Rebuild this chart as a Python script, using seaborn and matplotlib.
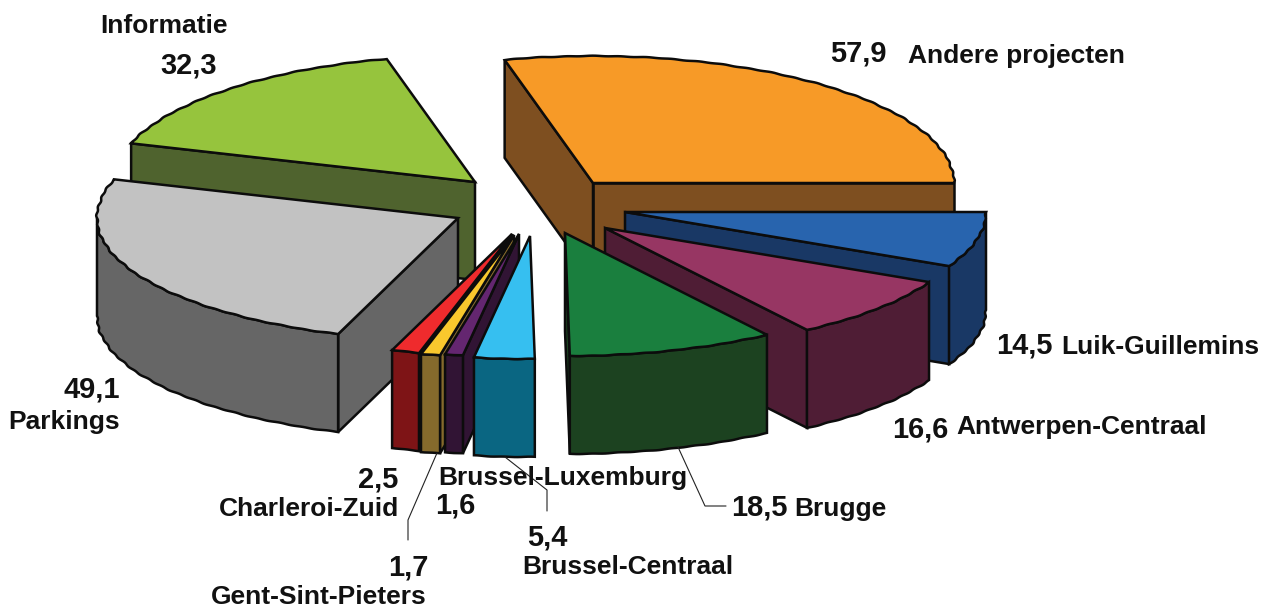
import numpy as np
import matplotlib.pyplot as plt
import seaborn as sns

# Slice data, clockwise from the top
labels = ['Andere projecten', 'Luik-Guillemins', 'Antwerpen-Centraal', 'Brugge', 'Brussel-Centraal',
          'Brussel-Luxemburg', 'Gent-Sint-Pieters', 'Charleroi-Zuid', 'Parkings', 'Informatie']
values = [57.9, 14.5, 16.6, 18.5, 5.4, 1.6, 1.7, 2.5, 49.1, 32.3]

# Colours of the top and of the side of each slice
top_colors = ['#F79A27', '#2864AE', '#973663', '#1A7F3E', '#36BFF0',
              '#642670', '#F9C82D', '#EF2B2D', '#C2C2C2', '#96C43D']
side_colors = ['#7E4F20', '#193865', '#4F1D35', '#1C4220', '#0A6682',
               '#311434', '#856A2C', '#7E1416', '#666666', '#4F632E']

# Explode offsets in pixels from the pie centre
explode_x = [73, 105, 85, 45, 10, -1, -6, -8, -62, -45]
explode_y = [-42, -13, 3, 8, 11, 9, 10, 9, -7, -43]
draw_order = [9, 8, 7, 6, 5, 4, 0, 1, 2, 3]

center = (520, 225)
rx, ry_back, ry_front, depth = 361, 127, 123, 98

sns.set_theme(style='white')
plt.rcParams['font.family'] = ['Liberation Sans', 'DejaVu Sans']
plt.rcParams['font.weight'] = 'bold'

fig = plt.figure(figsize=(12.78, 6.10), dpi=100)
ax = fig.add_axes([0, 0, 1, 1])
ax.set_xlim(0, 1278)
ax.set_ylim(610, 0)
ax.axis('off')


def rim(cx, cy, a0, a1, drop=0):
    # points along the rim, slightly scalloped like the original
    n = max(int(abs(a1 - a0) / 0.5), 2)
    t = np.radians(np.linspace(a0, a1, n))
    bump = 1 + 0.0018 * np.sin(t * 85) + 0.001 * np.sin(t * 37)
    ry = np.where(np.sin(t) < 0, ry_front, ry_back)
    return cx + rx * bump * np.cos(t), cy - ry * bump * np.sin(t) + drop


def face(xs, ys, color):
    ax.fill(xs, ys, facecolor=color, edgecolor='#0c0c0c', linewidth=1.8, joinstyle='miter')


def wall(cx, cy, a, color):
    ex = cx + rx * np.cos(np.radians(a))
    s = np.sin(np.radians(a))
    ey = cy - (ry_front if s < 0 else ry_back) * s
    face([cx, ex, ex, cx], [cy, ey, ey + depth, cy + depth], color)


# Slice angles from the values
total = sum(values)
sweep = np.array(values) / total * 360
edges = sweep[0] - np.concatenate([[0], np.cumsum(sweep)])

for i in draw_order:
    cx = center[0] + explode_x[i]
    cy = center[1] + explode_y[i]
    a_hi, a_lo = edges[i], edges[i + 1]

    # radial walls that face the viewer
    if np.cos(np.radians(a_lo)) > 0:
        wall(cx, cy, a_lo, side_colors[i])
    if np.cos(np.radians(a_hi)) < 0:
        wall(cx, cy, a_hi, side_colors[i])

    # outer wall, only the front half of the ellipse
    f_hi, f_lo = min(a_hi, 0), max(a_lo, -180)
    if f_hi - f_lo > 0.01:
        x0, y0 = rim(cx, cy, f_hi, f_lo)
        x1, y1 = rim(cx, cy, f_lo, f_hi, depth)
        face(np.r_[x0, x1], np.r_[y0, y1], side_colors[i])

    xs, ys = rim(cx, cy, a_hi, a_lo)
    face(np.r_[cx, xs], np.r_[cy, ys], top_colors[i])


def fmt(v):
    return str(v).replace('.', ',')


# Label positions: value then name, for each slice
value_pos = [(830, 54), (996, 345), (892, 429), (731, 508), (527, 537),
             (435, 505), (388, 567), (358, 479), (64, 390), (160, 66)]
name_pos = [(908, 56), (1061, 347), (956, 427), (794, 509), (522, 567),
            (438, 478), (211, 597), (219, 509), (8, 422), (100, 26)]

for v, name, vp, lp in zip(values, labels, value_pos, name_pos):
    ax.text(vp[0], vp[1], fmt(v), fontsize=20.9, fontweight='bold', color='#111111', ha='left', va='center')
    ax.text(lp[0], lp[1], name, fontsize=19, fontweight='bold', color='#111111', ha='left', va='center')

# Leader lines
ax.plot([678, 705, 726], [447, 506, 506], color='#222222', lw=0.8)
ax.plot([505, 547, 547], [457, 490, 511], color='#222222', lw=0.8)
ax.plot([437, 408, 408], [453, 520, 540], color='#222222', lw=0.8)

plt.savefig('out.png', dpi=100)
